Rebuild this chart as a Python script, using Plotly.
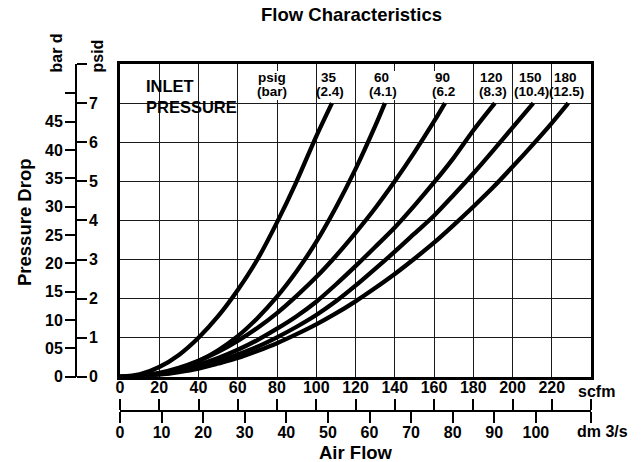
import plotly.graph_objects as go

# ---------------- data ----------------
flow_35 = [0, 10, 20, 30, 40, 50, 60, 70, 80, 90, 100, 108]
drop_35 = [0, 0.06, 0.25, 0.56, 1.0, 1.55, 2.22, 3.0, 3.95, 5.0, 6.15, 7.0]

flow_60 = [0, 10, 20, 30, 40, 50, 60, 70, 80, 90, 100, 110, 120, 130, 135]
drop_60 = [0, 0.02, 0.08, 0.2, 0.4, 0.68, 1.04, 1.5, 2.05, 2.7, 3.45, 4.33, 5.31, 6.41, 7.0]

flow_90 = [0, 10, 20, 30, 40, 50, 60, 70, 80, 90, 100, 110, 120, 130, 140, 150, 160, 165.6]
drop_90 = [0, 0.03, 0.10, 0.23, 0.41, 0.64, 0.92, 1.25, 1.63, 2.07, 2.55, 3.09, 3.68, 4.31, 5.0, 5.74, 6.53, 7.0]

flow_120 = [0, 10, 20, 30, 40, 50, 60, 70, 80, 90, 100, 110, 120, 130, 140, 150, 160, 170, 180, 191]
drop_120 = [0, 0.02, 0.08, 0.17, 0.31, 0.48, 0.69, 0.94, 1.23, 1.55, 1.92, 2.36, 2.83, 3.32, 3.82, 4.38, 4.97, 5.6, 6.3, 7.0]

flow_150 = [0, 10, 20, 30, 40, 50, 60, 70, 80, 90, 100, 110, 120, 130, 140, 150, 160, 170, 180, 190, 200, 210.6]
drop_150 = [0, 0.016, 0.063, 0.14, 0.25, 0.39, 0.57, 0.77, 1.01, 1.28, 1.58, 1.93, 2.33, 2.76, 3.2, 3.66, 4.12, 4.65, 5.2, 5.78, 6.37, 7.0]

flow_180 = [0, 10, 20, 30, 40, 50, 60, 70, 80, 90, 100, 110, 120, 130, 140, 150, 160, 170, 180, 190, 200, 210, 220, 228.4]
drop_180 = [0, 0.013, 0.054, 0.12, 0.21, 0.34, 0.48, 0.66, 0.86, 1.09, 1.34, 1.62, 1.93, 2.27, 2.63, 3.02, 3.43, 3.88, 4.35, 4.84, 5.37, 5.92, 6.49, 7.0]

psig_labels = ["35", "60", "90", "120", "150", "180"]
bar_labels = ["(2.4)", "(4.1)", "(6.2", "(8.3)", "(10.4)", "(12.5)"]

scfm_ticks = [0, 20, 40, 60, 80, 100, 120, 140, 160, 180, 200, 220]
dm_ticks = [0, 10, 20, 30, 40, 50, 60, 70, 80, 90, 100]
psid_ticks = [0, 1, 2, 3, 4, 5, 6, 7]
bar_ticks = [0, 0.05, 0.10, 0.15, 0.20, 0.25, 0.30, 0.35, 0.40, 0.45]
bar_tick_text = ["0", "05", "10", "15", "20", "25", "30", "35", "40", "45"]

SCFM_MAX = 240
PSID_MAX = 8
DM_PER_SCFM = 0.4719474
BAR_PER_PSI = 0.0689476

# ---------------- geometry helpers ----------------
W, H = 644, 462
ML, MR, MT, MB = 10, 10, 10, 10
PW, PH = W - ML - MR, H - MT - MB


def fx(px):
    return (px - ML) / PW


def fy(py):
    return (H - MB - py) / PH


FONT = "Liberation Sans, Arial, Helvetica, sans-serif"


def BOLD(s):
    return dict(family=FONT, size=s, color="black", weight="bold")


fig = go.Figure()

flows = [flow_35, flow_60, flow_90, flow_120, flow_150, flow_180]
drops = [drop_35, drop_60, drop_90, drop_120, drop_150, drop_180]
for f, d, name in zip(flows, drops, psig_labels):
    fig.add_trace(go.Scatter(
        x=f, y=d, mode="lines", name=name, showlegend=False, hoverinfo="skip",
        line=dict(color="black", width=4.3, shape="spline", smoothing=0.8),
    ))

# invisible traces so the auxiliary axes are drawn
for xa, ya in [("x2", "y"), ("x3", "y"), ("x", "y2"), ("x", "y3")]:
    fig.add_trace(go.Scatter(x=[None], y=[None], xaxis=xa, yaxis=ya,
                             mode="markers", showlegend=False, hoverinfo="skip"))

xdom = [fx(120), fx(591)]
ydom = [fy(376.8), fy(64)]

grid = dict(showgrid=True, gridcolor="#1a1a1a", gridwidth=1.2,
            showticklabels=False, ticks="", zeroline=False,
            showline=True, linecolor="black", linewidth=3, mirror=True)

fig.update_layout(
    width=W, height=H,
    margin=dict(l=ML, r=MR, t=MT, b=MB, autoexpand=False),
    paper_bgcolor="white", plot_bgcolor="white",
    showlegend=False,
    xaxis=dict(domain=xdom, range=[0, SCFM_MAX], tick0=0, dtick=20, **grid),
    yaxis=dict(domain=ydom, range=[0, PSID_MAX], tick0=0, dtick=1, **grid),
    xaxis2=dict(overlaying="x", anchor="free", position=fy(411), side="top",
                range=[0, SCFM_MAX], tickmode="array",
                tickvals=scfm_ticks + [SCFM_MAX],
                ticktext=[str(v) for v in scfm_ticks] + [""],
                ticks="outside", ticklen=11, tickwidth=1.5, tickcolor="black",
                showline=True, linewidth=1.5, linecolor="black",
                showgrid=False, zeroline=False, tickfont=BOLD(16)),
    xaxis3=dict(overlaying="x", anchor="free", position=fy(411), side="bottom",
                range=[0, SCFM_MAX * DM_PER_SCFM], tickmode="array",
                tickvals=dm_ticks + [SCFM_MAX * DM_PER_SCFM],
                ticktext=[str(v) for v in dm_ticks] + [""],
                ticks="outside", ticklen=11, tickwidth=1.5, tickcolor="black",
                ticklabelstandoff=-4,
                showline=False, showgrid=False, zeroline=False, tickfont=BOLD(16)),
    yaxis2=dict(overlaying="y", anchor="free", position=fx(76), side="right",
                range=[0, PSID_MAX], tickmode="array",
                tickvals=psid_ticks + [PSID_MAX],
                ticktext=[str(v) for v in psid_ticks] + [""],
                ticks="outside", ticklen=10, tickwidth=1.5, tickcolor="black",
                ticklabelstandoff=-1,
                showline=True, linewidth=1.5, linecolor="black",
                showgrid=False, zeroline=False, tickfont=BOLD(16)),
    yaxis3=dict(overlaying="y", anchor="free", position=fx(76), side="left",
                range=[0, PSID_MAX * BAR_PER_PSI], tickmode="array",
                tickvals=bar_ticks + [0.50],
                ticktext=bar_tick_text + [""],
                ticks="outside", ticklen=11, tickwidth=1.5, tickcolor="black",
                ticklabelstandoff=-1,
                showline=False, showgrid=False, zeroline=False, tickfont=BOLD(16)),
)

# white box behind "INLET PRESSURE"
fig.add_shape(type="rect", xref="paper", yref="paper",
              x0=fx(128), x1=fx(242), y0=fy(123), y1=fy(72),
              fillcolor="white", line=dict(width=0), layer="between")

# white boxes hiding grid lines behind header labels (psig, 35, 60, 90)
hdr_boxes = [(77.5, 16.5)] + [(f[-1], 15.0) for f in flows[:3]]
for cx, hw in hdr_boxes:
    fig.add_shape(type="rect", xref="x", yref="y",
                  x0=cx - hw / 2, x1=cx + hw / 2, y0=7.08, y1=7.82,
                  fillcolor="white", line=dict(width=0), layer="between")

ann = []


def txt(text, px, py, size, angle=0, xanchor="center", yanchor="middle", align="center"):
    ann.append(dict(text=text, x=fx(px), y=fy(py), xref="paper", yref="paper",
                    showarrow=False, font=BOLD(size), textangle=angle,
                    xanchor=xanchor, yanchor=yanchor, align=align))


txt("Flow Characteristics", 351.5, 15, 18.5)
txt("Pressure Drop", 25, 222, 18.5, angle=-90)
txt("Air Flow", 355.5, 452, 18.5)
txt("scfm", 596, 391, 16)
txt("dm 3/s", 602, 431, 16)
txt("psid", 97, 75, 16, angle=-90, yanchor="bottom")
txt("bar d", 56, 75, 16, angle=-90, yanchor="bottom")
txt("INLET", 144, 86, 16.5, xanchor="left")
txt("PRESSURE", 144, 107, 16.5, xanchor="left")

# header labels (psig / bar) at each curve end
TOP_Y, BOT_Y = 7.65, 7.29
for f, top, bot in zip(flows, psig_labels, bar_labels):
    ann.append(dict(text=top, x=f[-1] - 1.5, y=TOP_Y, xref="x", yref="y", showarrow=False,
                    font=BOLD(13.5), xanchor="center", yanchor="middle"))
    ann.append(dict(text=bot, x=f[-1] - 1.0, y=BOT_Y, xref="x", yref="y", showarrow=False,
                    font=BOLD(13.5), xanchor="center", yanchor="middle"))
ann.append(dict(text="psig", x=77.5, y=TOP_Y, xref="x", yref="y", showarrow=False, font=BOLD(13.5)))
ann.append(dict(text="(bar)", x=77.5, y=BOT_Y, xref="x", yref="y", showarrow=False, font=BOLD(13.5)))

fig.update_layout(annotations=ann)

fig.write_html("out.html", config={"displayModeBar": False},
               post_script="document.body.style.margin='0px';")
